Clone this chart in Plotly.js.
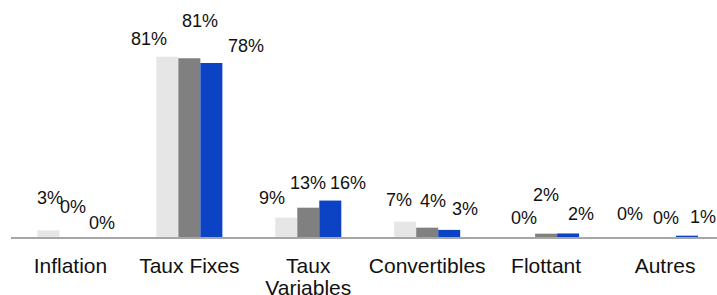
<!DOCTYPE html>
<html><head><meta charset="utf-8">
<script src="https://cdn.plot.ly/plotly-3.0.1.min.js"></script>
<style>html,body{margin:0;padding:0;background:#fff}</style>
</head><body>
<div id="chart" style="width:717px;height:295px"></div>
<script>
var categories = ["Inflation", "Taux Fixes", "Taux<br>Variables", "Convertibles", "Flottant", "Autres"];
var seriesA = [3, 81.1, 8.7, 6.9, 0, 0];
var seriesB = [0, 80.5, 13.2, 4.2, 1.5, 0];
var seriesC = [0, 78.3, 16.4, 3.2, 1.6, 0.6];
var colors = ["#E6E6E6", "#808080", "#0B43C4"];
// label offsets (pixels) relative to bar tops: [dx, dy]
var labelDx = [[2, 3, 10], [-18, 11, 35], [-14, 0, 18], [-6, 6, 16], [0, 0, 13], [-13, 1, 16]];
var labelDy = [[32, 30, 14], [18, 37, 17], [20, 25, 18], [21.5, 27, 21], [19, 39, 19], [23, 19, 19]];

var all = [seriesA, seriesB, seriesC];
var bargap = 0.445;
var bw = (1 - bargap) / 3;
var traces = all.map(function (v, s) {
  return {type: "bar", x: categories.map(function (c, i) { return i; }), y: v,
    marker: {color: colors[s], line: {width: 0}}, hoverinfo: "none", showlegend: false};
});
var ann = [];
all.forEach(function (v, s) {
  v.forEach(function (val, i) {
    ann.push({x: i + (s - 1) * bw, y: val, xref: "x", yref: "y", text: Math.round(val) + "%",
      showarrow: false, xanchor: "center", yanchor: "middle",
      xshift: labelDx[i][s], yshift: labelDy[i][s],
      font: {family: "Liberation Sans, Arial, sans-serif", size: 18, color: "#111"}});
  });
});
var layout = {
  width: 717, height: 295,
  margin: {l: 11, r: 0, t: 20, b: 58},
  paper_bgcolor: "#fff", plot_bgcolor: "#fff",
  barmode: "group", bargap: bargap, bargroupgap: 0,
  xaxis: {range: [-0.5, 5.437], tickmode: "array", tickvals: [0,1,2,3,4,5], ticktext: categories,
    showline: true, linecolor: "#A6A6A6", linewidth: 2, showgrid: false, zeroline: false,
    ticks: "outside", ticklen: 9, tickcolor: "rgba(0,0,0,0)", fixedrange: true,
    tickfont: {family: "Liberation Sans, Arial, sans-serif", size: 21, color: "#111"}},
  yaxis: {range: [0, 97.7], visible: false, showgrid: false, zeroline: false, fixedrange: true},
  annotations: ann,
  font: {family: "Liberation Sans, Arial, sans-serif"}
};
Plotly.newPlot("chart", traces, layout, {displayModeBar: false, staticPlot: true}).then(function (gd) {
  // tighter line spacing for the two-line tick label
  var lines = gd.querySelectorAll(".xtick text tspan.line");
  lines.forEach(function (t) {
    var dy = t.getAttribute("dy");
    if (dy && parseFloat(dy) > 0) t.setAttribute("dy", "1.05em");
  });
});
</script>
</body></html>
